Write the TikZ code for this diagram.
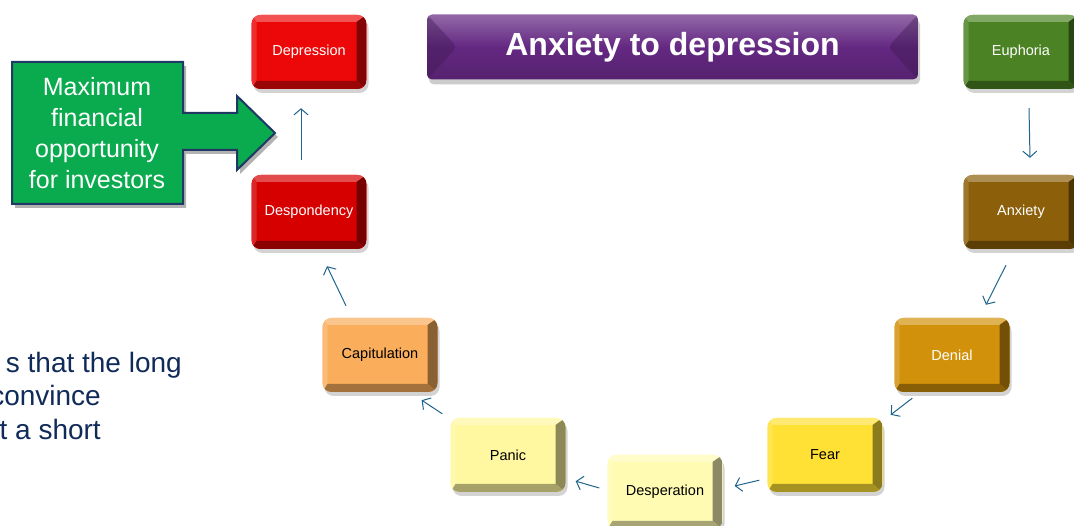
\documentclass[tikz,border=0pt]{standalone}
\usepackage{fontspec}
\setmainfont{Liberation Sans}
\usepackage{xcolor}
\usetikzlibrary{arrows.meta,shadows}
\definecolor{navyline}{RGB}{31,56,100}
\definecolor{navytext}{RGB}{16,42,90}
\definecolor{arrowblue}{RGB}{30,100,140}
\definecolor{oppgreen}{RGB}{10,170,78}
\definecolor{depred}{RGB}{236,8,8}
\definecolor{desred}{RGB}{214,0,0}
\definecolor{capiorange}{RGB}{250,174,92}
\definecolor{panicyellow}{RGB}{255,248,160}
\definecolor{despyellow}{RGB}{255,251,178}
\definecolor{fearyellow}{RGB}{255,224,52}
\definecolor{denialgold}{RGB}{210,145,10}
\definecolor{anxbrown}{RGB}{140,95,10}
\definecolor{euphgreen}{RGB}{75,130,35}
\definecolor{titlepurple}{RGB}{100,40,130}

\tikzset{
  stage/.style={fill=#1, minimum width=115pt, minimum height=74pt,
    rounded corners=9pt, inner sep=0pt, font=\fontsize{14.5}{17}\selectfont,
    drop shadow={shadow xshift=2pt, shadow yshift=-4pt, opacity=0.35},
    path picture={
      % top and left light bevel
      \fill[#1!70!white, sharp corners] (path picture bounding box.north west) -- (path picture bounding box.north east)
        -- ++(-10pt,-7pt) -- ([shift={(5pt,-7pt)}]path picture bounding box.north west) -- cycle;
      \fill[#1!85!white, sharp corners] (path picture bounding box.north west) -- (path picture bounding box.south west)
        -- ++(5pt,8pt) -- ([shift={(5pt,-7pt)}]path picture bounding box.north west) -- cycle;
      % right and bottom dark bevel
      \fill[#1!55!black, sharp corners] (path picture bounding box.north east) -- (path picture bounding box.south east)
        -- ++(-10pt,8pt) -- ([shift={(-10pt,-7pt)}]path picture bounding box.north east) -- cycle;
      \fill[#1!65!black, sharp corners] (path picture bounding box.south west) -- (path picture bounding box.south east)
        -- ++(-10pt,8pt) -- ([shift={(5pt,8pt)}]path picture bounding box.south west) -- cycle;
    }},
  flow/.style={arrowblue, line width=1pt, -{Straight Barb[length=6pt,width=14pt]}},
  x=1pt, y=1pt
}

\begin{document}
\begin{tikzpicture}
\useasboundingbox (0,0) rectangle (1074,526);
\clip (0,0) rectangle (1074,526);

% Title banner
\node[minimum width=491pt, minimum height=65pt, rounded corners=5pt,
  top color=titlepurple!70!white, bottom color=titlepurple!85!black, middle color=titlepurple,
  drop shadow={shadow xshift=2pt, shadow yshift=-5pt, opacity=0.4},
  path picture={
    \fill[titlepurple!60!black, opacity=0.4] (path picture bounding box.north west) -- ++(30pt,-32.5pt) -- (path picture bounding box.south west) -- cycle;
    \fill[titlepurple!60!black, opacity=0.4] (path picture bounding box.north east) -- ++(-30pt,-32.5pt) -- (path picture bounding box.south east) -- cycle;
  },
  text=white, font=\fontsize{32}{36}\selectfont\bfseries] (title) at (672.5,479) {Anxiety to depression};

% Cycle stages
\node[stage=depred, text=white] (dep) at (309,474) {Depression};
\node[stage=desred, text=white] (despo) at (309,314) {Despondency};
\node[stage=capiorange, text=black] (capit) at (380,171) {Capitulation};
\node[stage=panicyellow, text=black] (panic) at (508,71) {Panic};
\node[stage=despyellow, text=black] (desper) at (665,34) {Desperation};
\node[stage=fearyellow, text=black] (fear) at (825,71) {Fear};
\node[stage=denialgold, text=white] (denial) at (952,171) {Denial};
\node[stage=anxbrown, text=white] (anxiety) at (1021,314) {Anxiety};
\node[stage=euphgreen, text=white] (euphoria) at (1021,474) {Euphoria};

% Arrows between stages
\draw[flow] ([shift={(8pt,-19pt)}]euphoria.south) -- ([shift={(9pt,17pt)}]anxiety.north);
\draw[flow] ([shift={(-15pt,-16pt)}]anxiety.south) -- ([shift={(34pt,13pt)}]denial.north);
\draw[flow] ([shift={(18pt,-6pt)}]denial.south west) -- ([shift={(8pt,3pt)}]fear.north east);
\draw[flow] ([shift={(-8pt,12pt)}]fear.south west) -- ([shift={(12pt,6pt)}]desper.east);
\draw[flow] ([shift={(-8pt,4pt)}]desper.west) -- ([shift={(10pt,11pt)}]panic.south east);
\draw[flow] ([shift={(-8pt,4pt)}]panic.north west) -- ([shift={(-16pt,-8pt)}]capit.south east);
\draw[flow] ([shift={(-34pt,12pt)}]capit.north) -- ([shift={(18pt,-17pt)}]despo.south);
\draw[flow] ([shift={(-8pt,15pt)}]despo.north) -- ([shift={(-8pt,-19pt)}]dep.south);

% Green callout arrow
\fill[black, opacity=0.3] (15,318) -- (186,318) -- (186,372) -- (240,372) -- (240,352) -- (278,389)
  -- (240,426) -- (240,409) -- (186,409) -- (186,460) -- (15,460) -- cycle;
\draw[navyline, line width=2pt, fill=oppgreen, line join=miter] (12,322) -- (183,322) -- (183,376) -- (237,376)
  -- (237,356) -- (275,393) -- (237,430) -- (237,413) -- (183,413) -- (183,464) -- (12,464) -- cycle;
\node[text=white, align=center, font=\fontsize{25}{31}\selectfont] (opport) at (97,393)
  {Maximum\\financial\\opportunity\\for investors};

% Cut-off side text
\node[anchor=base east, text=navytext, font=\fontsize{28}{33}\selectfont, inner sep=0pt] (lineA) at (182,153) {s that the long};
\node[anchor=base east, text=navytext, font=\fontsize{28}{33}\selectfont, inner sep=0pt] (lineB) at (101,120) {convince};
\node[anchor=base east, text=navytext, font=\fontsize{28}{33}\selectfont, inner sep=0pt] (lineC) at (101,86) {t a short};
\end{tikzpicture}
\end{document}
